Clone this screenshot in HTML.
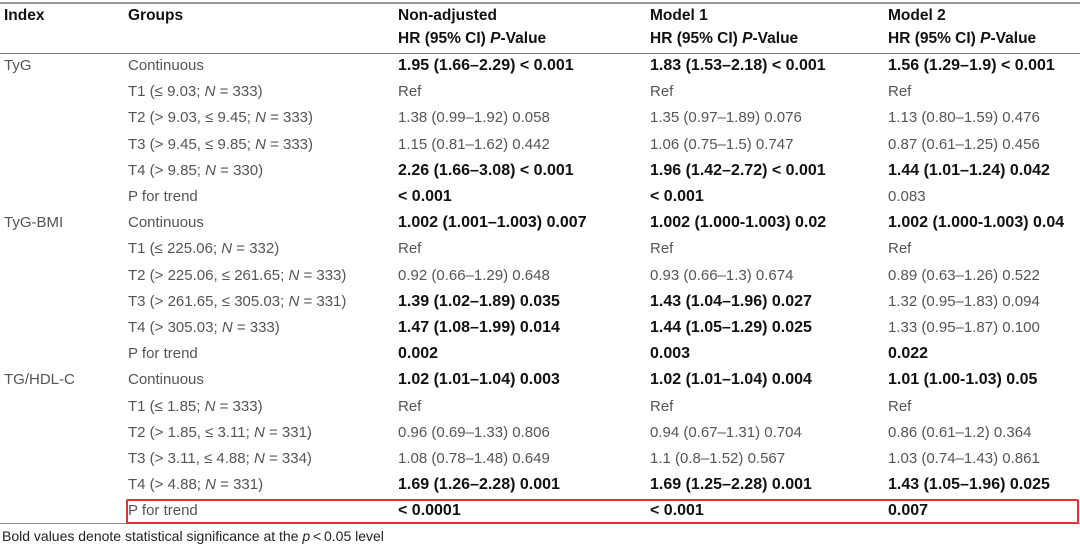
<!DOCTYPE html>
<html><head><meta charset="utf-8"><style>
body{margin:0;width:1080px;height:548px;background:#fff;position:relative;overflow:hidden;font-family:"Liberation Sans",sans-serif;}
.t{position:absolute;white-space:nowrap;font-size:15px;line-height:18px;color:#555;transform-origin:0 0;}
.b{font-weight:bold;color:#111;font-size:16px;}
.h{font-weight:bold;color:#111;font-size:15.5px;}
.rule{position:absolute;left:0;width:1080px;height:1px;background:#777;}
</style></head><body>
<div class="rule" style="top:2px;height:2px;background:#999"></div>
<div class="rule" style="top:53px"></div>
<div class="rule" style="top:523px;background:#888"></div>
<div style="position:absolute;left:126px;top:499px;width:949px;height:21px;border:2px solid #e03030;border-radius:2px"></div>
<div id="tbl"></div>
<div class="t" style="left:2px;top:527px;font-size:14px;color:#222">Bold values denote statistical significance at the <i>p</i>&thinsp;&lt;&thinsp;0.05 level</div>
<script>
const colX=[4,128,398,650,888];
const headers1=["Index","Groups","Non-adjusted","Model 1","Model 2"];
const indexLabels=["TyG","","","","","","TyG-BMI","","","","","","TG/HDL-C","","","","",""];
const groups=["Continuous","T1 (≤ 9.03; <i>N</i> = 333)","T2 (&gt; 9.03, ≤ 9.45; <i>N</i> = 333)","T3 (&gt; 9.45, ≤ 9.85; <i>N</i> = 333)","T4 (&gt; 9.85; <i>N</i> = 330)","P for trend",
"Continuous","T1 (≤ 225.06; <i>N</i> = 332)","T2 (&gt; 225.06, ≤ 261.65; <i>N</i> = 333)","T3 (&gt; 261.65, ≤ 305.03; <i>N</i> = 331)","T4 (&gt; 305.03; <i>N</i> = 333)","P for trend",
"Continuous","T1 (≤ 1.85; <i>N</i> = 333)","T2 (&gt; 1.85, ≤ 3.11; <i>N</i> = 331)","T3 (&gt; 3.11, ≤ 4.88; <i>N</i> = 334)","T4 (&gt; 4.88; <i>N</i> = 331)","P for trend"];
const nonAdj=["*1.95 (1.66–2.29) &lt; 0.001","Ref","1.38 (0.99–1.92) 0.058","1.15 (0.81–1.62) 0.442","*2.26 (1.66–3.08) &lt; 0.001","*&lt; 0.001",
"*1.002 (1.001–1.003) 0.007","Ref","0.92 (0.66–1.29) 0.648","*1.39 (1.02–1.89) 0.035","*1.47 (1.08–1.99) 0.014","*0.002",
"*1.02 (1.01–1.04) 0.003","Ref","0.96 (0.69–1.33) 0.806","1.08 (0.78–1.48) 0.649","*1.69 (1.26–2.28) 0.001","*&lt; 0.0001"];
const model1=["*1.83 (1.53–2.18) &lt; 0.001","Ref","1.35 (0.97–1.89) 0.076","1.06 (0.75–1.5) 0.747","*1.96 (1.42–2.72) &lt; 0.001","*&lt; 0.001",
"*1.002 (1.000-1.003) 0.02","Ref","0.93 (0.66–1.3) 0.674","*1.43 (1.04–1.96) 0.027","*1.44 (1.05–1.29) 0.025","*0.003",
"*1.02 (1.01–1.04) 0.004","Ref","0.94 (0.67–1.31) 0.704","1.1 (0.8–1.52) 0.567","*1.69 (1.25–2.28) 0.001","*&lt; 0.001"];
const model2=["*1.56 (1.29–1.9) &lt; 0.001","Ref","1.13 (0.80–1.59) 0.476","0.87 (0.61–1.25) 0.456","*1.44 (1.01–1.24) 0.042","0.083",
"*1.002 (1.000-1.003) 0.04","Ref","0.89 (0.63–1.26) 0.522","1.32 (0.95–1.83) 0.094","1.33 (0.95–1.87) 0.100","*0.022",
"*1.01 (1.00-1.03) 0.05","Ref","0.86 (0.61–1.2) 0.364","1.03 (0.74–1.43) 0.861","*1.43 (1.05–1.96) 0.025","*0.007"];
const tbl=document.getElementById('tbl');
function cell(x,y,html,cls,name){
  const d=document.createElement('div');
  d.className='t '+cls;
  d.style.left=x+'px';d.style.top=y+'px';
  d.innerHTML=html;
  
  
  tbl.appendChild(d);
  return d;
}
headers1.forEach((h,i)=>{cell(colX[i],7,h,'h','header-'+i);});
for(let i=2;i<5;i++){cell(colX[i],30,'HR (95% CI) <i>P</i>-Value','h','header-sub-'+i);}
const rowY0=57,rowH=26.2;
groups.forEach((g,r)=>{
  const y=rowY0+r*rowH;
  if(indexLabels[r])cell(colX[0],y,indexLabels[r],'','index-label');
  cell(colX[1],y,g,'','group-label');
  [nonAdj,model1,model2].forEach((arr,c)=>{
    let v=arr[r],bold=v[0]==='*';if(bold)v=v.slice(1);
    cell(colX[c+2],y,v,bold?'b':'','value-cell');
  });
});
</script>
</body></html>
